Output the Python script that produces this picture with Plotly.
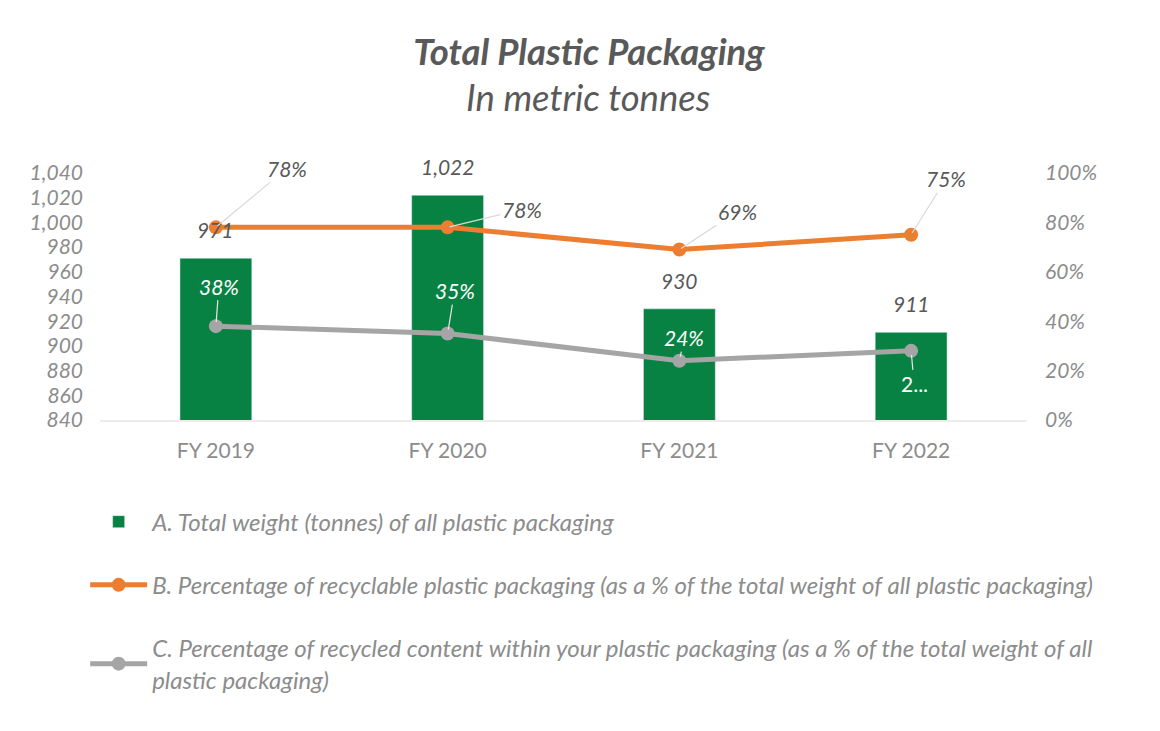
import plotly.graph_objects as go

categories = ["FY 2019", "FY 2020", "FY 2021", "FY 2022"]
total_weight = [971, 1022, 930, 911]
recyclable_pct = [0.78, 0.78, 0.69, 0.75]
recycled_pct = [0.38, 0.35, 0.24, 0.28]
recycled_labels = ["38%", "35%", "24%", "2..."]

left_ticks = list(range(840, 1041, 20))
right_ticks = [0, 0.2, 0.4, 0.6, 0.8, 1.0]

name_a = "A. Total weight (tonnes) of all plastic packaging"
name_b = "B. Percentage of recyclable plastic packaging (as a % of the total weight of all plastic packaging)"
name_c = ("C. Percentage of recycled content within your plastic packaging (as a % of the total weight of all"
          "<br>plastic packaging)")

GREEN = "#078242"
ORANGE = "#ED7D31"
GRAY = "#A5A5A5"
TXT = "#595959"
TICK = "#8C8C8C"
FONT = "Lato"

# page is offset by the 8px body margin of the browser
OFF = 8
W, H = 1160 - OFF, 731 - OFF
plot_left, plot_right = 100 - OFF, 1027 - OFF
plot_top, plot_bot = 173 - OFF, 420 - OFF

fig = go.Figure()
fig.add_trace(go.Bar(
    x=categories, y=total_weight, name=name_a, marker_color=GREEN,
    width=0.31, yaxis="y", legendgroup="a"))
fig.add_trace(go.Scatter(
    x=categories, y=recyclable_pct, name=name_b, mode="lines+markers",
    line=dict(color=ORANGE, width=5), marker=dict(size=14, color=ORANGE),
    yaxis="y2", legendgroup="b"))
fig.add_trace(go.Scatter(
    x=categories, y=recycled_pct, name=name_c, mode="lines+markers",
    line=dict(color=GRAY, width=5), marker=dict(size=14, color=GRAY),
    yaxis="y2", legendgroup="c"))

lab_font = dict(family=FONT, size=21, color=TXT, style="italic")
annotations = []
# bar value labels
for c, v in zip(categories, total_weight):
    annotations.append(dict(x=c, y=v, xref="x", yref="y", text=f"{v:,}",
                            showarrow=False, yanchor="bottom", yshift=14, font=lab_font))
# orange labels with leader lines
orange_off = [(71, -59), (74, -18), (58, -38), (35, -56)]
for c, v, (ax, ay) in zip(categories, recyclable_pct, orange_off):
    annotations.append(dict(x=c, y=v, xref="x", yref="y2", text=f"{round(v*100)}%",
                            showarrow=True, arrowhead=0, arrowwidth=1.2, arrowcolor="#D9D9D9",
                            ax=ax, ay=ay, standoff=2, font=lab_font))
# gray labels (white on bars)
gray_off = [(3, -40), (7, -43), (5, -23), (3, 33)]
for c, v, lab, (ax, ay) in zip(categories, recycled_pct, recycled_labels, gray_off):
    annotations.append(dict(x=c, y=v, xref="x", yref="y2", text=lab,
                            showarrow=True, arrowhead=0, arrowwidth=1.2, arrowcolor="#E6E6E6",
                            ax=ax, ay=ay, standoff=4,
                            font=dict(family=FONT, size=21, color="white",
                                      style="italic" if "%" in lab else "normal")))
# subtitle
annotations.append(dict(x=(588 - 100) / 927, y=(420 - 97) / 247, xref="paper", yref="paper",
                        xanchor="center", yanchor="middle", text="In metric tonnes",
                        showarrow=False,
                        font=dict(family=FONT, size=36.5, color=TXT, style="italic")))

tick_font = dict(family=FONT, size=21, color=TICK, style="italic")

fig.update_layout(
    width=W, height=H,
    margin=dict(l=plot_left, r=W - plot_right, t=plot_top, b=H - plot_bot, pad=0, autoexpand=False),
    paper_bgcolor="white", plot_bgcolor="white",
    font=dict(family=FONT, color=TICK),
    title=dict(text="Total Plastic Packaging", x=(589 - OFF) / W, xanchor="center",
               y=1 - (52 - OFF) / H, yanchor="middle", yref="container",
               font=dict(family=FONT, size=36.5, color=TXT, weight="bold", style="italic")),
    xaxis=dict(showgrid=False, showline=True, linecolor="#EDEDED", linewidth=1.5,
               ticks="", tickfont=dict(family=FONT, size=21, color=TICK),
               ticklabelstandoff=11),
    yaxis=dict(range=[840, 1040], tickvals=left_ticks, tickformat=",d", showgrid=False,
               zeroline=False, showline=False, ticks="", tickfont=tick_font,
               ticklabelstandoff=16),
    yaxis2=dict(range=[0, 1], tickvals=right_ticks, tickformat=".0%", overlaying="y", side="right",
                showgrid=False, zeroline=False, showline=False, ticks="", tickfont=tick_font,
                ticklabelstandoff=17),
    legend=dict(orientation="v", x=-0.016, xanchor="left", y=-0.322, yanchor="top",
                font=dict(family=FONT, size=24, color=TICK, style="italic"), tracegroupgap=29,
                itemwidth=57, bgcolor="rgba(0,0,0,0)"),
    annotations=annotations,
    showlegend=True,
)
fig.write_html("out.html")
